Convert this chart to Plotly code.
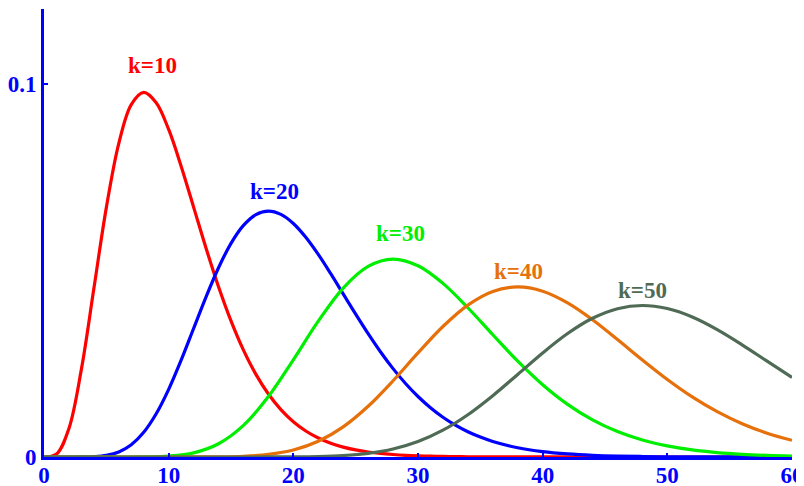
import plotly.graph_objects as go

# x positions and curve heights
x_k10 = list(range(0, 37)) + [40, 50, 60]
k10_vals = [0, 0.00079, 0.00766, 0.02353, 0.04511, 0.0668, 0.08402, 0.09441,
            0.09768, 0.0949, 0.08773, 0.07791, 0.06693, 0.05591, 0.04561,
            0.03646, 0.02863, 0.02213, 0.01687, 0.0127, 0.00946, 0.00697,
            0.00509, 0.00369, 0.00265, 0.0019, 0.00135, 0.00095, 0.00067,
            0.00046, 0.00032, 0.00022, 0.00015, 0.00011, 0.00007, 0.00005,
            0.00003, 0.00001, 0, 0]

x_k20 = list(range(0, 37)) + list(range(38, 62, 2))
k20_vals = [0, 0, 0, 0.00001, 0.0001, 0.00043, 0.00135, 0.00328, 0.00662,
            0.01158, 0.01813, 0.02593, 0.03442, 0.0429, 0.0507, 0.05722,
            0.06204, 0.06493, 0.06588, 0.065, 0.06256, 0.05886, 0.05426,
            0.0491, 0.04368, 0.03826, 0.03303, 0.02813, 0.02367, 0.01969,
            0.0162, 0.0132, 0.01066, 0.00853, 0.00676, 0.00533, 0.00416,
            0.00249, 0.00145, 0.00083, 0.00046, 0.00025, 0.00014, 0.00007,
            0.00004, 0.00002, 0.00001, 0.00001, 0]

x_step2 = list(range(0, 62, 2))
k30_vals = [0, 0, 0, 0, 0.00003, 0.00024, 0.00111, 0.00355, 0.00846,
            0.01619, 0.02604, 0.03638, 0.04525, 0.05105, 0.053, 0.05122,
            0.04651, 0.03998, 0.03274, 0.02568, 0.01937, 0.01411, 0.00995,
            0.00682, 0.00455, 0.00297, 0.00189, 0.00118, 0.00072, 0.00043,
            0.00026]
k40_vals = [0, 0, 0, 0, 0, 0, 0.00001, 0.00004, 0.0002, 0.00069, 0.00187,
            0.0042, 0.00807, 0.01358, 0.02043, 0.02787, 0.03495, 0.04069,
            0.04434, 0.04556, 0.04442, 0.04129, 0.03677, 0.03147, 0.02599,
            0.02077, 0.0161, 0.01213, 0.00891, 0.00638, 0.00447]
k50_vals = [0, 0, 0, 0, 0, 0, 0, 0, 0, 0.00001, 0.00004, 0.00013, 0.00039,
            0.00099, 0.00215, 0.00415, 0.00719, 0.01133, 0.01643, 0.02212,
            0.02787, 0.03307, 0.03715, 0.03972, 0.04058, 0.03976, 0.0375,
            0.03412, 0.03005, 0.02566, 0.0213]

series = [
    ("k=10", x_k10, k10_vals, "#ff0000"),
    ("k=20", x_k20, k20_vals, "#0000ff"),
    ("k=30", x_step2, k30_vals, "#00ee00"),
    ("k=40", x_step2, k40_vals, "#e6700a"),
    ("k=50", x_step2, k50_vals, "#4f6b55"),
]

# label anchor points (x, y) above each peak
label_pos = [(8.7, 0.1048), (18.5, 0.0712), (28.6, 0.0600), (38.1, 0.0497), (48.0, 0.0446)]

fig = go.Figure()
for name, xs, vals, color in series:
    fig.add_trace(
        go.Scatter(
            x=xs,
            y=vals,
            mode="lines",
            name=name,
            line=dict(color=color, width=3.2, shape="spline", smoothing=1.0),
            showlegend=False,
        )
    )

for (name, xs, vals, color), (lx, ly) in zip(series, label_pos):
    fig.add_annotation(
        x=lx,
        y=ly,
        text="<b>" + name + "</b>",
        showarrow=False,
        font=dict(family="Liberation Serif", size=23, color=color),
        xanchor="center",
        yanchor="middle",
    )

axis_font = dict(family="Liberation Serif", size=23, color="#0000ff", weight="bold")

fig.update_xaxes(
    range=[0, 60],
    tickvals=[0, 10, 20, 30, 40, 50, 60],
    ticks="inside",
    ticklen=4,
    tickwidth=2,
    tickcolor="#0000ff",
    ticklabelstandoff=-5,
    showline=True,
    linecolor="#0000ff",
    linewidth=3,
    showgrid=False,
    zeroline=False,
    automargin=False,
    tickfont=axis_font,
)
fig.update_yaxes(
    range=[0, 0.12],
    tickvals=[0, 0.1],
    ticktext=["0", "0.1"],
    ticks="inside",
    ticklen=4,
    tickwidth=2,
    tickcolor="#0000ff",
    showline=True,
    linecolor="#0000ff",
    linewidth=3,
    showgrid=False,
    zeroline=False,
    automargin=False,
    tickfont=axis_font,
)

# the page body adds an 8px offset, so the figure is sized to the remaining window
fig.update_layout(
    width=796,
    height=478,
    margin=dict(l=36, r=12, t=1, b=29, autoexpand=False),
    plot_bgcolor="white",
    paper_bgcolor="white",
)

fig.write_html("out.html")
